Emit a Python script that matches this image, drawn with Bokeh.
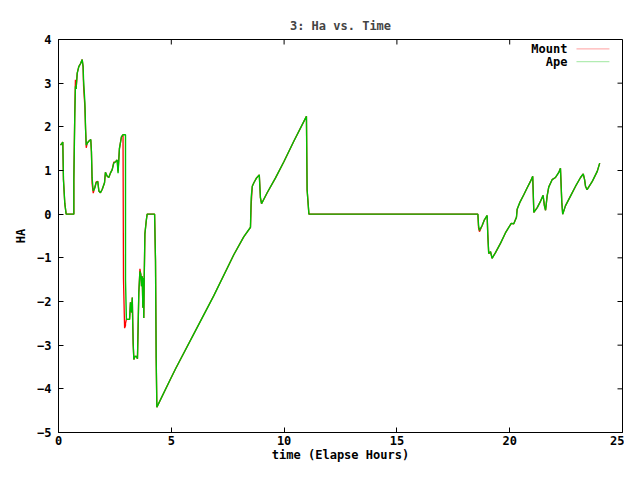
import math
from bokeh.plotting import figure
from bokeh.models import (FixedTicker, Label, Range1d, BoxAnnotation)
from bokeh.embed import file_html
from bokeh.resources import INLINE

# ---------------- data ----------------
time_h = [
    0.09, 0.19, 0.20, 0.22, 0.28, 0.34, 0.68, 0.68, 0.72, 0.75,
    0.78, 0.83, 0.90, 0.98, 1.05, 1.09, 1.11, 1.17, 1.20, 1.23,
    1.27, 1.34, 1.43, 1.46, 1.49, 1.54, 1.61, 1.67, 1.74, 1.79,
    1.86, 1.94, 2.04, 2.08, 2.16, 2.23, 2.30, 2.38, 2.45, 2.53,
    2.60, 2.64, 2.70, 2.79, 2.86, 2.88, 2.93, 2.97, 2.97, 3.01,
    3.15, 3.19, 3.24, 3.27, 3.29, 3.31, 3.34, 3.38, 3.46, 3.50,
    3.52, 3.56, 3.61, 3.65, 3.68, 3.71, 3.74, 3.77, 3.78, 3.80,
    3.83, 3.89, 3.93, 4.26, 4.30, 4.33, 4.36, 4.96, 5.19, 6.04,
    6.88, 7.77, 8.21, 8.51, 8.54, 8.59, 8.66, 8.78, 8.90, 8.95,
    9.00, 9.25, 9.62, 9.99, 10.43, 10.99, 11.02, 11.10, 18.59, 18.62,
    18.66, 18.78, 18.88, 19.00, 19.03, 19.07, 19.15, 19.22, 19.37, 19.59,
    19.81, 19.96, 20.07, 20.18, 20.30, 20.33, 20.45, 20.63, 20.77, 20.92,
    21.02, 21.07, 21.22, 21.37, 21.48, 21.54, 21.59, 21.66, 21.73, 21.88,
    22.03, 22.18, 22.25, 22.31, 22.35, 22.47, 22.70, 22.92, 23.14, 23.26,
    23.32, 23.36, 23.43, 23.66, 23.88, 23.99,
]

ha_ape = [
    1.58, 1.65, 1.37, 0.79, 0.24, 0.00, 0.00, 0.79, 2.18, 2.93,
    2.87, 3.23, 3.38, 3.45, 3.54, 3.38, 3.08, 2.55, 1.95, 1.58,
    1.62, 1.67, 1.71, 1.43, 0.83, 0.53, 0.60, 0.72, 0.75, 0.53,
    0.49, 0.57, 0.72, 0.96, 0.87, 0.84, 0.94, 1.02, 1.17, 1.20,
    1.24, 0.94, 1.50, 1.77, 1.82, 1.82, 1.82, 1.82, -1.50, -2.41,
    -2.41, -2.02, -2.25, -1.91, -2.47, -2.96, -3.33, -3.26, -3.26, -3.31,
    -2.81, -1.80, -1.31, -1.38, -1.65, -1.42, -2.14, -1.46, -2.38, -1.46,
    -0.45, -0.15, 0.00, 0.00, -1.08, -3.30, -4.42, -3.78, -3.54, -2.70,
    -1.87, -0.93, -0.52, -0.30, 0.38, 0.64, 0.72, 0.83, 0.90, 0.38,
    0.24, 0.49, 0.83, 1.20, 1.67, 2.24, 0.56, 0.00, 0.00, -0.26,
    -0.37, -0.26, -0.13, -0.03, -0.48, -0.90, -0.86, -1.01, -0.88, -0.67,
    -0.43, -0.30, -0.21, -0.22, -0.07, 0.11, 0.27, 0.45, 0.60, 0.75,
    0.87, 0.04, 0.15, 0.30, 0.43, 0.19, 0.09, 0.42, 0.62, 0.79,
    0.84, 0.96, 1.05, 0.27, 0.00, 0.19, 0.42, 0.64, 0.84, 0.92,
    0.79, 0.64, 0.56, 0.75, 0.98, 1.17,
]

ha_mount = [
    1.58, 1.65, 1.37, 0.79, 0.24, 0.00, 0.00, 0.79, 2.30, 3.08,
    2.87, 3.23, 3.38, 3.45, 3.54, 3.38, 2.95, 2.45, 1.95, 1.52,
    1.62, 1.67, 1.71, 1.43, 0.70, 0.48, 0.62, 0.74, 0.75, 0.53,
    0.49, 0.57, 0.72, 0.96, 0.87, 0.84, 0.94, 1.02, 1.19, 1.20,
    1.24, 0.98, 1.50, 1.77, 1.82, -1.48, -2.61, -2.55, -2.50, -2.41,
    -2.41, -2.02, -2.25, -1.91, -2.47, -2.96, -3.33, -3.26, -3.26, -3.31,
    -2.81, -1.80, -1.25, -1.38, -1.65, -1.42, -2.14, -1.46, -2.38, -1.46,
    -0.45, -0.15, 0.00, 0.00, -1.08, -3.30, -4.42, -3.78, -3.54, -2.70,
    -1.87, -0.93, -0.52, -0.30, 0.20, 0.64, 0.72, 0.83, 0.90, 0.38,
    0.24, 0.49, 0.83, 1.20, 1.67, 2.24, 0.56, 0.00, 0.00, -0.32,
    -0.40, -0.26, -0.13, -0.03, -0.48, -0.90, -0.86, -1.01, -0.88, -0.67,
    -0.43, -0.30, -0.21, -0.22, -0.07, 0.11, 0.27, 0.45, 0.60, 0.75,
    0.87, 0.04, 0.15, 0.30, 0.43, 0.19, 0.09, 0.42, 0.62, 0.79,
    0.84, 0.96, 1.05, 0.27, 0.00, 0.19, 0.42, 0.64, 0.84, 0.92,
    0.79, 0.64, 0.56, 0.75, 0.98, 1.17,
]

series_names = ["Mount", "Ape"]
series_colors = ["#ff0000", "#00c000"]
x_limits = (0, 25)
y_limits = (-5, 4)
x_ticks = [0, 5, 10, 15, 20, 25]
y_ticks = [-5, -4, -3, -2, -1, 0, 1, 2, 3, 4]

# ---------------- figure ----------------
FONT = "DejaVu Sans Mono"
FS = "12px"

p = figure(width=624, height=464,
           x_range=Range1d(*x_limits), y_range=Range1d(*y_limits),
           output_backend="svg", toolbar_location=None,
           min_border_left=58, min_border_right=2,
           min_border_top=39, min_border_bottom=30,
           x_axis_label="time (Elapse Hours)", y_axis_label="HA")

p.title.text = "3: Ha vs. Time"
p.title.align = "center"
p.title.text_font = FONT
p.title.text_font_size = FS
p.title.text_font_style = "bold"
p.title.standoff = 14

p.xgrid.visible = False
p.ygrid.visible = False
p.outline_line_color = "black"
p.outline_line_alpha = 1.0
p.outline_line_width = 1
p.background_fill_color = "white"
p.border_fill_color = "white"

p.xaxis.ticker = FixedTicker(ticks=x_ticks)
p.yaxis.ticker = FixedTicker(ticks=y_ticks)

for ax in (p.xaxis[0], p.yaxis[0]):
    ax.major_tick_in = 5
    ax.major_tick_out = 0
    ax.minor_tick_line_color = None
    ax.axis_line_color = "black"
    ax.major_tick_line_color = "black"
    ax.major_label_text_font = FONT
    ax.major_label_text_font_size = FS
    ax.major_label_text_font_style = "bold"
    ax.major_label_text_color = "black"
    ax.axis_label_text_font = FONT
    ax.axis_label_text_font_size = FS
    ax.axis_label_text_font_style = "bold"
    ax.axis_label_text_color = "black"

p.xaxis.major_label_standoff = 3
p.xaxis.axis_label_standoff = 0
p.yaxis.major_label_standoff = 7
p.yaxis.axis_label_standoff = 6

# mirrored inward ticks on the top and right edges of the frame
p.ray(x=x_ticks, y=[y_limits[1]] * len(x_ticks), length=5, length_units="screen",
      angle=-math.pi / 2, line_color="black", line_width=1)
p.ray(x=[x_limits[1]] * len(y_ticks), y=y_ticks, length=5, length_units="screen",
      angle=math.pi, line_color="black", line_width=1)

# ---------------- data lines ----------------
p.line(time_h, ha_mount, line_color=series_colors[0], line_width=1.3)
p.line(time_h, ha_ape, line_color=series_colors[1], line_width=1.4)

# ---------------- key (gnuplot style: text, then sample line) ----------------
key_y = [3.786, 3.494]
key_text_x = 22.56
key_line_x = (22.96, 24.42)
for name, color, ky in zip(series_names, series_colors, key_y):
    p.add_layout(Label(x=key_text_x, y=ky, text=name, text_align="right",
                       text_baseline="middle", text_font=FONT,
                       text_font_size=FS, text_font_style="bold",
                       text_color="black"))
    p.add_layout(BoxAnnotation(left=key_line_x[0], right=key_line_x[1],
                               top=ky, bottom=ky, fill_alpha=0,
                               line_color=color, line_width=1.3))

open("out.html", "w").write(file_html(p, INLINE))
